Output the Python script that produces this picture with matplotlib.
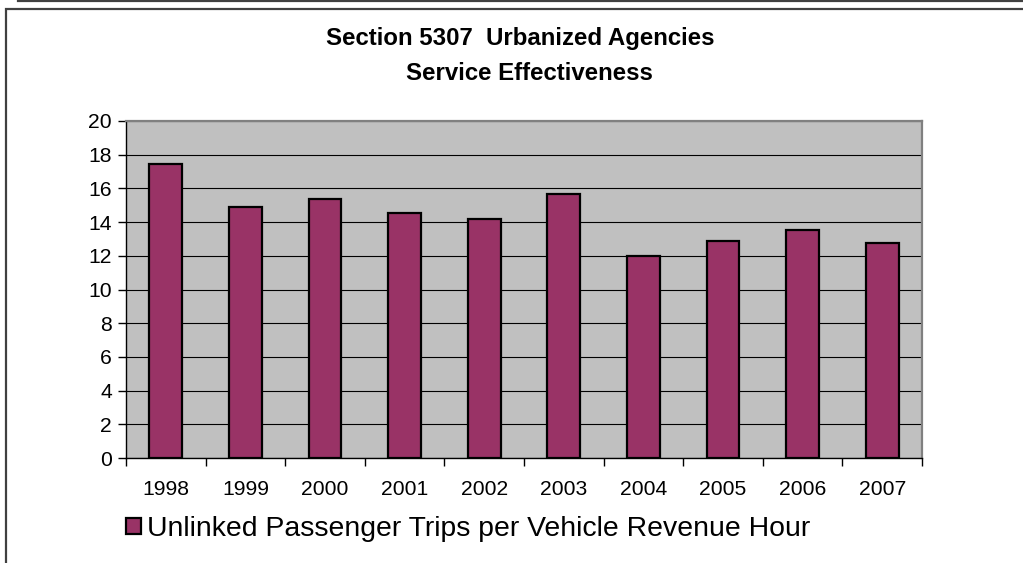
import matplotlib
matplotlib.use("Agg")
import matplotlib.pyplot as plt
from matplotlib.patches import Rectangle
from matplotlib.lines import Line2D
import numpy as np

plt.rcParams['font.family'] = ['Liberation Sans', 'DejaVu Sans']

# data
years = ['1998', '1999', '2000', '2001', '2002', '2003', '2004', '2005', '2006', '2007']
trips_per_hour = [17.45, 14.9, 15.4, 14.55, 14.2, 15.65, 12.0, 12.9, 13.55, 12.75]
series_label = 'Unlinked Passenger Trips per Vehicle Revenue Hour'
title_lines = ['Section 5307  Urbanized Agencies', 'Service Effectiveness']

W, H = 1023, 563
fig = plt.figure(figsize=(W / 100, H / 100), dpi=100)


def px(x, y):
    """pixel (from top-left) -> figure fraction"""
    return x / W, 1 - y / H


# outer frame and the line above it
fig.patches.append(Rectangle(px(5.5, 600), (W + 20) / W, 591.5 / H, transform=fig.transFigure,
                             fill=False, edgecolor='#404040', linewidth=1.6, zorder=0))
fig.lines.append(Line2D([18 / W, 1.0], [1 - 1 / H, 1 - 1 / H], transform=fig.transFigure,
                        color='#404040', linewidth=1.6))

left, right, top, bottom = 126, 922, 121, 458
ax = fig.add_axes([left / W, 1 - bottom / H, (right - left) / W, (bottom - top) / H])
ax.set_facecolor('#C0C0C0')

x = np.arange(len(years))
bars = ax.bar(x, trips_per_hour, width=0.41, color='#993366', edgecolor='black',
              linewidth=1.6, zorder=3)

ax.set_xlim(-0.5, len(years) - 0.5)
ax.set_ylim(0, 20)
ax.set_yticks(range(0, 21, 2))
ax.yaxis.grid(True, color='black', linewidth=0.8, zorder=1)
ax.set_axisbelow(True)

# category boundaries carry the ticks, labels sit between them
ax.set_xticks(np.arange(-0.5, len(years), 1.0))
ax.set_xticklabels([])
ax.set_xticks(x, minor=True)
ax.set_xticklabels(years, minor=True)
ax.tick_params(axis='x', which='major', direction='out', length=6, width=1, color='black')
ax.tick_params(axis='x', which='minor', length=0, pad=16, labelsize=15.2)
ax.tick_params(axis='y', direction='out', length=6, width=1, pad=4, labelsize=15.2)

for side in ['top', 'right']:
    ax.spines[side].set_color('#808080')
    ax.spines[side].set_linewidth(1.6)
for side in ['left', 'bottom']:
    ax.spines[side].set_color('black')
    ax.spines[side].set_linewidth(1.0)

tx, ty1 = px(520, 38)
fig.text(tx, ty1, title_lines[0], ha='center', va='center', fontsize=17.3, fontweight='bold')
tx, ty2 = px(529, 73)
fig.text(tx, ty2, title_lines[1], ha='center', va='center', fontsize=17.3, fontweight='bold')

lx, ly = px(126, 529)
fig.legend([bars[0]], [series_label], loc='center left', bbox_to_anchor=(lx, ly),
           frameon=False, fontsize=20.4, handlelength=0.53, handleheight=0.53,
           handletextpad=0.22, borderaxespad=0, borderpad=0)

fig.savefig('out.png', dpi=100)
